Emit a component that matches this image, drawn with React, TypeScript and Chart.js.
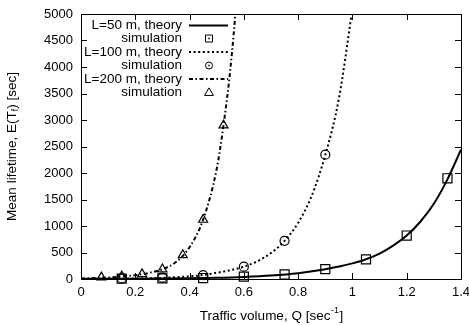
import React, { useEffect, useRef } from "react";
import { Chart, registerables } from "chart.js";

Chart.register(...registerables);

// ---- tick values ----
const xTicks = [0, 0.2, 0.4, 0.6, 0.8, 1, 1.2, 1.4];
const yTicks = [0, 500, 1000, 1500, 2000, 2500, 3000, 3500, 4000, 4500, 5000];

// ---- theory curves ----
const theory50X = [0, 0.1, 0.2, 0.3, 0.4, 0.5, 0.6, 0.7, 0.8, 0.9, 0.95, 1.0, 1.05, 1.1, 1.15, 1.2, 1.25, 1.3, 1.35, 1.4];
const theory50Y = [2, 4, 6, 10, 15, 24, 40, 66, 110, 182, 235, 295, 372, 480, 630, 820, 1080, 1420, 1880, 2440];

const theory100X = [0, 0.1, 0.2, 0.3, 0.4, 0.45, 0.5, 0.55, 0.6, 0.65, 0.7, 0.75, 0.8, 0.85, 0.9, 0.95, 1.0];
const theory100Y = [2, 4, 9, 22, 50, 75, 118, 165, 232, 335, 490, 720, 1060, 1570, 2340, 3400, 5100];

const theory200X = [0, 0.05, 0.1, 0.15, 0.2, 0.25, 0.3, 0.35, 0.4, 0.45, 0.5, 0.525, 0.55, 0.575, 0.6];
const theory200Y = [10, 18, 28, 48, 72, 115, 185, 320, 600, 1120, 2080, 2900, 3950, 5400, 7300];

// ---- simulation points ----
const sim50X = [0.15, 0.3, 0.45, 0.6, 0.75, 0.9, 1.05, 1.2, 1.35];
const sim50Y = [8, 12, 18, 45, 85, 185, 370, 820, 1900];

const sim100X = [0.15, 0.3, 0.45, 0.6, 0.75, 0.9];
const sim100Y = [10, 25, 75, 232, 720, 2345];

const sim200X = [0.075, 0.15, 0.225, 0.3, 0.375, 0.45, 0.525];
const sim200Y = [32, 50, 92, 185, 453, 1120, 2900];

// ---- texts ----
const legendLabels = [
  "L=50 m, theory",
  "simulation",
  "L=100 m, theory",
  "simulation",
  "L=200 m, theory",
  "simulation",
];
const xTitleParts = ["Traffic volume, Q [sec", "-1", "]"];
const yTitleParts = ["Mean lifetime, E(T", "f", ") [sec]"];

const FONT = "'Liberation Sans', Arial, Helvetica, sans-serif";
const DOT = [2, 2.6];
const DASHDOT = [4, 2.5, 1.5, 2.5];

const zip = (xs: number[], ys: number[]) => xs.map((x, i) => ({ x, y: ys[i] }));

function drawMarker(ctx: CanvasRenderingContext2D, style: string, x: number, y: number, s: number, dot: boolean) {
  ctx.beginPath();
  if (style === "rect") {
    ctx.rect(x - s, y - s, 2 * s, 2 * s);
  } else if (style === "circle") {
    ctx.arc(x, y, s, 0, Math.PI * 2);
  } else {
    ctx.moveTo(x, y - s * 1.1);
    ctx.lineTo(x + s * 1.05, y + s * 0.7);
    ctx.lineTo(x - s * 1.05, y + s * 0.7);
    ctx.closePath();
  }
  ctx.stroke();
  if (dot) {
    ctx.fillRect(x - 0.75, y - 0.75, 1.5, 1.5);
  }
}

const decorPlugin = {
  id: "gnuplotDecor",
  afterDraw(chart: any) {
    const ctx: CanvasRenderingContext2D = chart.ctx;
    const { left, right, top, bottom } = chart.chartArea;
    const xs = chart.scales.x;
    const ys = chart.scales.y;
    ctx.save();
    ctx.strokeStyle = "#000";
    ctx.fillStyle = "#000";
    ctx.lineWidth = 1;
    ctx.setLineDash([]);
    // frame
    ctx.strokeRect(Math.round(left) + 0.5, Math.round(top) + 0.5, Math.round(right - left), Math.round(bottom - top));
    // ticks
    const TL = 6;
    ctx.beginPath();
    xTicks.forEach((v) => {
      const px = Math.round(xs.getPixelForValue(v)) + 0.5;
      ctx.moveTo(px, bottom);
      ctx.lineTo(px, bottom - TL);
      ctx.moveTo(px, top);
      ctx.lineTo(px, top + TL);
    });
    yTicks.forEach((v) => {
      const py = Math.round(ys.getPixelForValue(v)) + 0.5;
      ctx.moveTo(left, py);
      ctx.lineTo(left + TL, py);
      ctx.moveTo(right, py);
      ctx.lineTo(right - TL, py);
    });
    ctx.stroke();

    // x title
    const big = `13.5px ${FONT}`;
    const small = `9px ${FONT}`;
    ctx.textBaseline = "middle";
    ctx.textAlign = "left";
    ctx.font = big;
    const w0 = ctx.measureText(xTitleParts[0]).width;
    const w2 = ctx.measureText(xTitleParts[2]).width;
    ctx.font = small;
    const w1 = ctx.measureText(xTitleParts[1]).width;
    const cx = (left + right) / 2;
    let sx = cx - (w0 + w1 + w2) / 2;
    const ty = 316;
    ctx.font = big;
    ctx.fillText(xTitleParts[0], sx, ty);
    ctx.font = small;
    ctx.fillText(xTitleParts[1], sx + w0 + 0.5, ty - 5);
    ctx.font = big;
    ctx.fillText(xTitleParts[2], sx + w0 + w1 + 1, ty);

    // y title
    ctx.save();
    ctx.translate(12, (top + bottom) / 2);
    ctx.rotate(-Math.PI / 2);
    ctx.font = big;
    const y0 = ctx.measureText(yTitleParts[0]).width;
    const y2 = ctx.measureText(yTitleParts[2]).width;
    ctx.font = small;
    const y1 = ctx.measureText(yTitleParts[1]).width;
    let syy = -(y0 + y1 + y2) / 2;
    ctx.font = big;
    ctx.fillText(yTitleParts[0], syy, 0);
    ctx.font = small;
    ctx.fillText(yTitleParts[1], syy + y0, 4);
    ctx.font = big;
    ctx.fillText(yTitleParts[2], syy + y0 + y1, 0);
    ctx.restore();

    // legend
    const rows = [25, 38.5, 52, 65.5, 79, 92.5];
    const textRight = 182;
    const sampleL = 189;
    const sampleR = 228;
    const mx = 209;
    ctx.font = big;
    ctx.textAlign = "right";
    legendLabels.forEach((lab, i) => {
      ctx.fillText(lab, textRight, rows[i]);
    });
    ctx.lineCap = "butt";
    const drawSample = (y: number, dash: number[], lw: number) => {
      ctx.beginPath();
      ctx.setLineDash(dash);
      ctx.lineWidth = lw;
      ctx.moveTo(sampleL, y);
      ctx.lineTo(sampleR, y);
      ctx.stroke();
      ctx.setLineDash([]);
    };
    drawSample(Math.round(rows[0]) + 0.5, [], 2);
    drawSample(Math.round(rows[2]), DOT, 2);
    drawSample(Math.round(rows[4]), DASHDOT, 2);
    ctx.lineWidth = 1;
    drawMarker(ctx, "rect", mx, rows[1], 3.5, true);
    drawMarker(ctx, "circle", mx, rows[3], 3.5, true);
    drawMarker(ctx, "tri", mx, rows[5], 4.2, false);
    ctx.restore();
  },
};

export default function App() {
  const ref = useRef<HTMLCanvasElement | null>(null);
  useEffect(() => {
    if (!ref.current) return;
    const lineClip = { left: 0, right: 0, top: 0, bottom: 4 };
    const theory = (data: any[], dash: number[]) => ({
      data,
      borderColor: "#000",
      borderWidth: 2,
      borderDash: dash,
      pointRadius: 0,
      showLine: true,
      fill: false,
      cubicInterpolationMode: "monotone",
      clip: lineClip,
    });
    const sim = (data: any[], style: string, r: number) => ({
      data,
      showLine: false,
      borderColor: "#000",
      backgroundColor: "rgba(0,0,0,0)",
      pointStyle: style,
      pointRadius: r,
      pointBorderWidth: 1.2,
      pointBorderColor: "#000",
      pointBackgroundColor: "rgba(0,0,0,0)",
      clip: false,
    });
    const chart = new Chart(ref.current, {
      type: "line",
      data: {
        datasets: [
          theory(zip(theory50X, theory50Y), []),
          sim(zip(sim50X, sim50Y), "rect", 6.4),
          theory(zip(theory100X, theory100Y), DOT),
          sim(zip(sim100X, sim100Y), "circle", 4.5),
          theory(zip(theory200X, theory200Y), DASHDOT),
          sim(zip(sim200X, sim200Y), "triangle", 5.2),
        ] as any,
      },
      options: {
        animation: false,
        responsive: false,
        events: [],
        layout: { padding: { left: 0, right: 8, top: 14, bottom: 0 } },
        plugins: { legend: { display: false }, tooltip: { enabled: false }, title: { display: false } },
        scales: {
          x: {
            type: "linear",
            min: 0,
            max: 1.4,
            grid: { display: false, drawTicks: false },
            border: { display: false },
            afterBuildTicks: (s: any) => {
              s.ticks = xTicks.map((v) => ({ value: v }));
            },
            afterFit: (s: any) => {
              s.height = 46;
              s.paddingLeft = 0;
              s.paddingRight = 0;
            },
            ticks: {
              color: "#000",
              font: { family: FONT, size: 13 },
              padding: 6,
              maxRotation: 0,
              autoSkip: false,
              callback: (v: any) => String(v),
            },
          },
          y: {
            type: "linear",
            min: 0,
            max: 5000,
            grid: { display: false, drawTicks: false },
            border: { display: false },
            afterBuildTicks: (s: any) => {
              s.ticks = yTicks.map((v) => ({ value: v }));
            },
            afterFit: (s: any) => {
              s.width = 81;
              s.paddingTop = 0;
              s.paddingBottom = 0;
            },
            ticks: {
              color: "#000",
              font: { family: FONT, size: 13 },
              padding: 8,
              autoSkip: false,
              callback: (v: any) => String(v),
            },
          },
        },
      } as any,
      plugins: [decorPlugin],
    });
    return () => chart.destroy();
  }, []);
  return (
    <div style={{ position: "absolute", left: 0, top: 0, width: 469, height: 325, background: "#fff" }}>
      <canvas ref={ref} width={469} height={325} style={{ width: 469, height: 325, display: "block" }} />
    </div>
  );
}
